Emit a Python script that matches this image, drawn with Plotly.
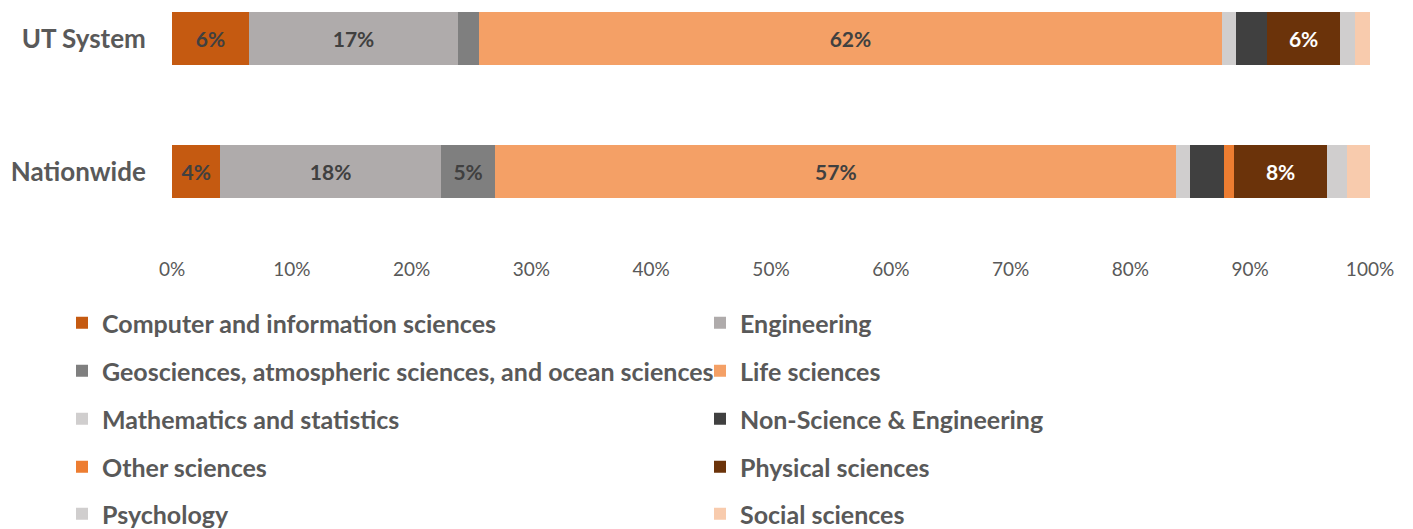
import plotly.graph_objects as go

groups = ["UT System", "Nationwide"]
fields = [
    "Computer and information sciences",
    "Engineering",
    "Geosciences, atmospheric sciences, and ocean sciences",
    "Life sciences",
    "Mathematics and statistics",
    "Non-Science & Engineering",
    "Other sciences",
    "Physical sciences",
    "Psychology",
    "Social sciences",
]
ut_system = [6.42, 17.46, 1.75, 62.0, 1.20, 2.55, 0.0, 6.15, 1.23, 1.25]
nationwide = [4.03, 18.41, 4.55, 56.85, 1.14, 2.86, 0.83, 7.73, 1.67, 2.0]
colors = ["#C55A11", "#AFABAB", "#7F7F7F", "#F4A066", "#D0CECE",
          "#404040", "#ED7D31", "#6B330A", "#D0CECE", "#F8CBAD"]
label_colors = ["#404040"] * 7 + ["#FFFFFF"] + ["#404040"] * 2
x_ticks = list(range(0, 101, 10))
x_tick_text = [f"{v}%" for v in x_ticks]

FONT = "Lato, 'Open Sans', sans-serif"
GREY = "#595959"

fig = go.Figure()
for i, name in enumerate(fields):
    vals = [ut_system[i], nationwide[i]]
    texts = [f"{round(v)}%" if v >= 3 else "" for v in vals]
    leg = "legend" if i // 2 == 0 else f"legend{i // 2 + 1}"
    fig.add_trace(go.Bar(
        name=name, y=groups, x=vals, orientation="h",
        marker=dict(color=colors[i], line=dict(width=0)),
        text=texts, textposition="inside", insidetextanchor="middle",
        textangle=0,
        textfont=dict(family=FONT, size=21, color=label_colors[i], weight="bold"),
        width=0.4, legend=leg, hoverinfo="name+x",
    ))

# figure coords (page is offset by 8px body margin)
W, H = 1413, 529
L, R, T, B = 164, 51, 0, 289
plot_h = H - T - B
plot_w = W - L - R
row_y = [315, 363, 411, 459, 507]
layout_legends = {}
for r, py in enumerate(row_y):
    key = "legend" if r == 0 else f"legend{r + 1}"
    layout_legends[key] = dict(
        orientation="h", x=(54 - L) / plot_w, xanchor="left",
        y=((H - B) - py) / plot_h, yanchor="middle",
        entrywidth=593, entrywidthmode="pixels",
        font=dict(family=FONT, size=25, color=GREY, weight="bold"),
        bgcolor="rgba(0,0,0,0)", itemclick=False, itemdoubleclick=False,
        traceorder="normal",
    )

fig.update_layout(
    barmode="stack",
    width=W, height=H,
    margin=dict(l=L, r=R, t=T, b=B, pad=0),
    plot_bgcolor="white", paper_bgcolor="white",
    showlegend=True,
    xaxis=dict(range=[0, 100], tickvals=x_ticks, ticktext=x_tick_text,
               showgrid=False, zeroline=False, showline=False,
               tickfont=dict(family=FONT, size=19, color=GREY),
               ticks="outside", ticklen=4, tickcolor="rgba(0,0,0,0)"),
    yaxis=dict(categoryorder="array", categoryarray=groups,
               range=[1.575, -0.229], showgrid=False, zeroline=False,
               showline=False,
               tickfont=dict(family=FONT, size=26, color=GREY, weight="bold"),
               ticks="outside", ticklen=20, tickcolor="rgba(0,0,0,0)"),
    **layout_legends,
)

fig.write_html("out.html")
